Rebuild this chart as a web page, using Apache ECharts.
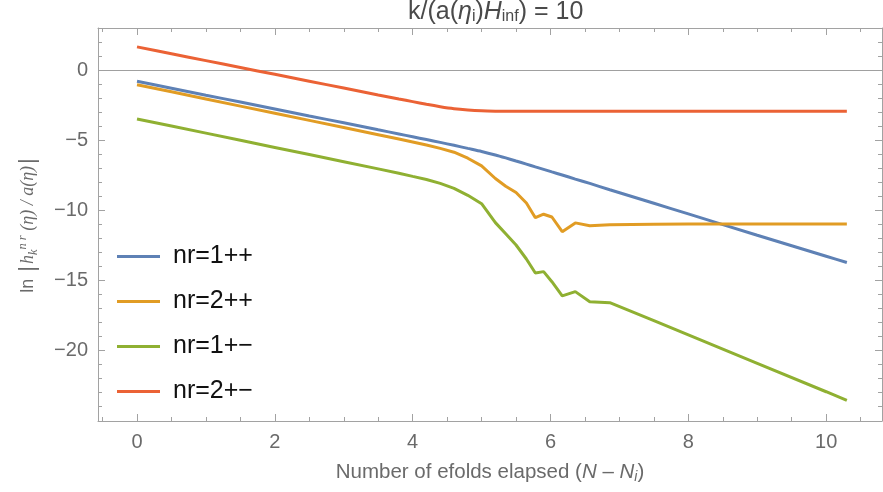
<!DOCTYPE html>
<html>
<head>
<meta charset="utf-8">
<script src="https://cdn.jsdelivr.net/npm/echarts@6/dist/echarts.min.js"></script>
<style>
  html, body { margin: 0; padding: 0; background: #fff; }
  #chart { width: 883px; height: 492px; }
</style>
</head>
<body>
<div id="chart"></div>
<script>
// e-folds elapsed since N_i (shared sampling grid)
const efolds = [0, 0.5, 1, 1.5, 2, 2.5, 3, 3.5, 3.8, 4.0, 4.2, 4.4, 4.6, 4.8, 5.0, 5.2, 5.35, 5.5, 5.65,
                5.78, 5.9, 6.02, 6.17, 6.36, 6.57, 6.86, 7.5, 8, 9, 10, 10.3];

// ln|h_k^nr(eta)/a(eta)| for each mode
const nr1pp = [-0.8, -1.3, -1.8, -2.29, -2.78, -3.28, -3.77, -4.27, -4.57, -4.77, -4.97, -5.17, -5.38, -5.6, -5.82,
               -6.07, -6.28, -6.5, -6.72, -6.92, -7.1, -7.28, -7.5, -7.79, -8.1, -8.55, -9.52, -10.28, -11.8, -13.3, -13.75];
const nr2pp = [-1.05, -1.56, -2.07, -2.58, -3.09, -3.6, -4.11, -4.62, -4.93, -5.14, -5.36, -5.6, -5.87, -6.3, -6.85,
               -7.75, -8.3, -8.75, -9.5, -10.55, -10.3, -10.5, -11.55, -10.92, -11.12, -11.05, -11.02, -11.0, -11.0, -11.0, -11.0];
const nr1pm = [-3.5, -4.0, -4.51, -5.02, -5.53, -6.04, -6.55, -7.06, -7.37, -7.6, -7.82, -8.1, -8.45, -8.95, -9.55,
               -10.9, -11.7, -12.5, -13.5, -14.5, -14.4, -15.12, -16.13, -15.83, -16.55, -16.62, -17.9, -18.92, -20.95, -22.98, -23.6];
const nr2pm = [1.65, 1.16, 0.67, 0.18, -0.31, -0.8, -1.29, -1.78, -2.07, -2.26, -2.45, -2.62, -2.76, -2.85, -2.91,
               -2.94, -2.95, -2.95, -2.95, -2.95, -2.95, -2.95, -2.95, -2.95, -2.95, -2.95, -2.95, -2.95, -2.95, -2.95, -2.95];

const seriesNames = ['nr=1++', 'nr=2++', 'nr=1+\u2212', 'nr=2+\u2212'];
const seriesValues = [nr1pp, nr2pp, nr1pm, nr2pm];
const seriesColors = ['#5e81b5', '#e19c24', '#8fb032', '#eb6235'];
const seriesSmooth = [0.25, 0, 0, 0.3];

// tick positions
const xMajorTicks = [0, 2, 4, 6, 8, 10];
const xMinorTicks = [-0.5, 0.5, 1, 1.5, 2.5, 3, 3.5, 4.5, 5, 5.5, 6.5, 7, 7.5, 8.5, 9, 9.5, 10.5];
const yMajorTicks = [-20, -15, -10, -5, 0];
const yMinorTicks = [-24, -23, -22, -21, -19, -18, -17, -16, -14, -13, -12, -11, -9, -8, -7, -6, -4, -3, -2, -1, 1, 2, 3];

const X_MIN = -0.566, X_MAX = 10.81;
const Y_MIN = -25.07, Y_MAX = 3.0;

const FRAME = '#a2a2a2';
const LABEL = '#6a6a6a';
const TITLE = '#4a4a4a';
const SANS = '"Liberation Sans", Arial, sans-serif';
const SERIF = '"Liberation Serif", "Times New Roman", serif';

const minus = v => String(v).replace('-', '\u2212');

function frameAxis(kind, grid, position, ticks, len, extra) {
  const isX = kind === 'x';
  return Object.assign({
    type: 'value',
    gridIndex: grid,
    position: position,
    min: isX ? X_MIN : Y_MIN,
    max: isX ? X_MAX : Y_MAX,
    axisLine: { show: grid === 0, onZero: false, lineStyle: { color: FRAME, width: 1 } },
    axisTick: { show: true, inside: true, length: len, customValues: ticks, lineStyle: { color: FRAME, width: 1 } },
    axisLabel: { show: false },
    splitLine: { show: false },
    minorTick: { show: false }
  }, extra || {});
}

const option = {
  animation: false,
  backgroundColor: '#ffffff',
  title: {
    text: '{t|k/(a(}{it|\u03b7}{sub|i}{t|)}{it|H}{sub|inf}{t|) = 10}',
    left: 408,
    top: -1,
    padding: 0,
    textStyle: {
      fontWeight: 'normal',
      rich: {
        t: { fontFamily: SANS, fontWeight: 'normal', fontSize: 25, color: TITLE, lineHeight: 26 },
        it: { fontFamily: SANS, fontWeight: 'normal', fontStyle: 'italic', fontSize: 25, color: TITLE, lineHeight: 26 },
        sub: { fontFamily: SANS, fontWeight: 'normal', fontSize: 16, color: TITLE, lineHeight: 16, verticalAlign: 'bottom' }
      }
    }
  },
  legend: {
    orient: 'vertical',
    left: 112,
    top: 239,
    icon: 'rect',
    itemWidth: 43,
    itemHeight: 3,
    itemGap: 20,
    data: seriesNames,
    textStyle: { fontFamily: SANS, fontSize: 25, color: '#111', lineHeight: 25, padding: [0, 0, 0, 8] }
  },
  grid: [
    { left: 98, right: 1, top: 28, bottom: 71, outerBoundsMode: 'none' },
    { left: 98, right: 1, top: 28, bottom: 71, outerBoundsMode: 'none' }
  ],
  xAxis: [
    frameAxis('x', 0, 'bottom', xMajorTicks, 7, {
      axisLabel: { show: true, customValues: xMajorTicks, color: LABEL, fontFamily: SANS, fontSize: 20, margin: 11, formatter: minus },
      name: '{t|Number of efolds elapsed (}{it|N}{t| \u2013 }{it|N}{sub|i}{t|)}',
      nameLocation: 'middle',
      nameGap: 40,
      nameTextStyle: {
        rich: {
          t: { fontFamily: SANS, fontSize: 20.5, color: LABEL, lineHeight: 23 },
          it: { fontFamily: SANS, fontStyle: 'italic', fontSize: 20.5, color: LABEL, lineHeight: 23 },
          sub: { fontFamily: SANS, fontStyle: 'italic', fontSize: 14, color: LABEL, lineHeight: 14, verticalAlign: 'bottom' }
        }
      }
    }),
    frameAxis('x', 0, 'top', xMajorTicks, 7),
    frameAxis('x', 1, 'bottom', xMinorTicks, 4),
    frameAxis('x', 1, 'top', xMinorTicks, 4)
  ],
  yAxis: [
    frameAxis('y', 0, 'left', yMajorTicks, 7, {
      axisLabel: { show: true, customValues: yMajorTicks, color: LABEL, fontFamily: SANS, fontSize: 20, margin: 10, formatter: minus },
      name: '{t|ln }{bar||}{it|h}{sub|k}{sup|n r}{it| (\u03b7) / a(\u03b7)}{bar||}',
      nameLocation: 'middle',
      nameRotate: 90,
      nameGap: 58,
      nameTextStyle: {
        padding: [0, 0, 0, 0],
        rich: {
          t: { fontFamily: SANS, fontSize: 18, color: LABEL, lineHeight: 24 },
          bar: { fontFamily: SANS, fontSize: 22, color: LABEL, lineHeight: 24, padding: [0, 2, 0, 2] },
          it: { fontFamily: SERIF, fontStyle: 'italic', fontSize: 18, color: LABEL, lineHeight: 24 },
          sub: { fontFamily: SERIF, fontStyle: 'italic', fontSize: 12.5, color: LABEL, lineHeight: 12, verticalAlign: 'bottom' },
          sup: { fontFamily: SERIF, fontStyle: 'italic', fontSize: 12.5, color: LABEL, lineHeight: 12, verticalAlign: 'top' }
        }
      }
    }),
    frameAxis('y', 0, 'right', yMajorTicks, 7),
    frameAxis('y', 1, 'left', yMinorTicks, 4),
    frameAxis('y', 1, 'right', yMinorTicks, 4)
  ],
  series: seriesNames.map((name, i) => ({
    name: name,
    type: 'line',
    xAxisIndex: 0,
    yAxisIndex: 0,
    data: efolds.map((x, j) => [x, seriesValues[i][j]]),
    smooth: seriesSmooth[i],
    showSymbol: false,
    symbol: 'none',
    color: seriesColors[i],
    itemStyle: { color: seriesColors[i] },
    lineStyle: { color: seriesColors[i], width: 3 },
    z: 3 + i,
    markLine: i === 0 ? {
      silent: true,
      symbol: ['none', 'none'],
      label: { show: false },
      lineStyle: { color: '#a0a0a0', width: 1, type: 'solid' },
      data: [{ yAxis: 0 }]
    } : undefined
  }))
};

const chart = echarts.init(document.getElementById('chart'), null, { renderer: 'canvas' });
chart.setOption(option);
</script>
</body>
</html>
